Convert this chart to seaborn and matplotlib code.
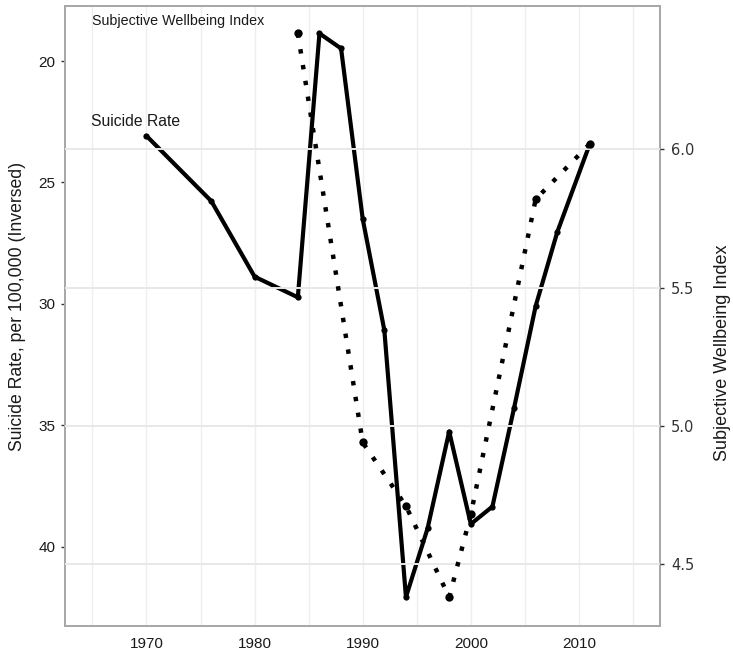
import matplotlib
matplotlib.use("Agg")
import matplotlib.pyplot as plt
import seaborn as sns
import pandas as pd
import numpy as np

# Data
suicide_years = [1970, 1976, 1980, 1984, 1986, 1988, 1990, 1992, 1994, 1996,
                 1998, 2000, 2002, 2004, 2006, 2008, 2011]
suicide_rate = [23.08, 25.77, 28.88, 29.73, 18.86, 19.48, 26.5, 31.08, 42.08, 39.25,
                35.26, 39.07, 38.35, 34.29, 30.09, 27.04, 23.42]

swb_years = [1984, 1990, 1994, 1998, 2000, 2006, 2011]
swb_index = [6.42, 4.94, 4.71, 4.38, 4.68, 5.82, 6.02]

left_ticks = [20, 25, 30, 35, 40]
right_ticks = [4.5, 5.0, 5.5, 6.0]
x_ticks = [1970, 1980, 1990, 2000, 2010]
x_minor = [1965, 1975, 1985, 1995, 2005, 2015]

df_s = pd.DataFrame({"year": suicide_years, "rate": suicide_rate})
df_w = pd.DataFrame({"year": swb_years, "swb": swb_index})

sns.set_theme(style="white")
plt.rcParams['font.family'] = ['Liberation Sans', 'DejaVu Sans']

fig = plt.figure(figsize=(7.33, 6.55), dpi=100)
ax = fig.add_axes([65.4/733, 1-626/655, (660-65.4)/733, (626-6)/655])
ax.set_facecolor("white")

# vertical grid
ax.set_xlim(1962.5, 2017.5)
ax.set_xticks(x_ticks)
ax.set_xticks(x_minor, minor=True)
ax.grid(True, axis="x", which="both", color="#eeeeee", lw=1.0, zorder=0)
ax.set_axisbelow(True)

sns.lineplot(data=df_s, x="year", y="rate", ax=ax, color="black", lw=3.0,
             marker="o", markersize=4.5, markeredgewidth=0, zorder=3)
ax.set_ylim(43.27, 17.73)
ax.set_yticks(left_ticks)
ax.set_yticklabels([str(t) for t in left_ticks])
ax.set_xlabel("")
ax.set_ylabel("Suicide Rate, per 100,000 (Inversed)", fontsize=12.7, color="#1a1a1a")
ax.yaxis.set_label_coords(-0.066, 0.515)

ax2 = ax.twinx()
sns.lineplot(data=df_w, x="year", y="swb", ax=ax2, color="black", lw=3.2,
             zorder=3)
ax2.lines[0].set_dashes((1.0, 2.6))
ax2.lines[0].set_dash_capstyle("butt")
ax2.scatter(df_w["year"], df_w["swb"], s=36, color="black", zorder=4, linewidths=0)
ax2.set_ylim(4.276, 6.519)
ax2.set_yticks(right_ticks)
ax2.set_yticklabels([f"{t:.1f}" for t in right_ticks], family="DejaVu Sans")
ax2.set_ylabel("Subjective Wellbeing Index", fontsize=13, color="#1a1a1a")
ax2.yaxis.set_label_coords(1.091, 0.44)
ax2.set_xlabel("")
ax2.grid(True, axis="y", color="#e8e8e8", lw=1.4, zorder=5)
ax2.set_axisbelow(False)
ax2.set_xlim(1962.5, 2017.5)

for a in (ax, ax2):
    for s in a.spines.values():
        s.set_color("#a8a8a8")
        s.set_linewidth(1.3)
        s.set_visible(True)

ax.tick_params(axis="y", which="major", length=3, width=1, color="#333333",
               labelsize=11, labelcolor="#1a1a1a", pad=4, left=True)
ax.tick_params(axis="x", which="both", length=0, labelsize=11, labelcolor="#1a1a1a", pad=8)
ax2.tick_params(axis="y", which="major", length=3, width=1, color="#333333",
                labelsize=10.5, labelcolor="#333333", pad=5, right=True)

ax.text(1972.9, 18.35, "Subjective Wellbeing Index", ha="center", va="center",
        fontsize=10.3, color="#1a1a1a", zorder=6)
ax.text(1969.0, 22.47, "Suicide Rate", ha="center", va="center",
        fontsize=11.3, color="#1a1a1a", zorder=6)

fig.savefig("out.png", dpi=100, facecolor="white")
